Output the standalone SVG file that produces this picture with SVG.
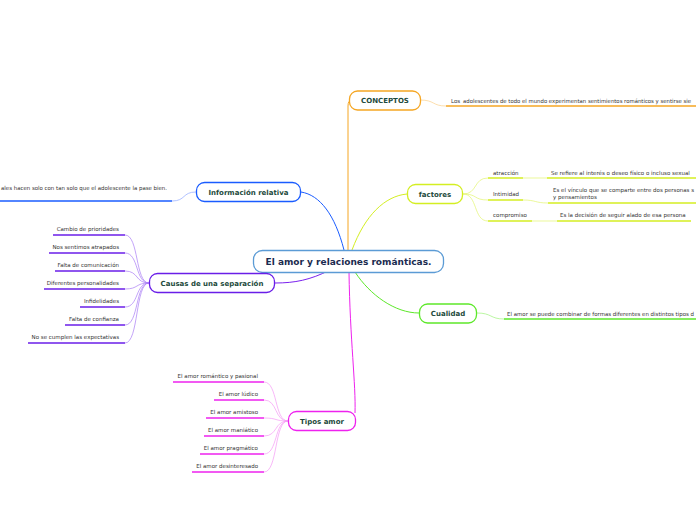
<svg xmlns="http://www.w3.org/2000/svg" width="696" height="520" viewBox="0 0 696 520">
<style>
.node{fill:#fff;stroke-width:1.3}
.lbl{font-family:"DejaVu Sans",sans-serif;font-weight:bold;font-size:7px;fill:#1d4a3c;text-anchor:middle}
.sm{font-family:"DejaVu Sans",sans-serif;font-size:5.5px;fill:#333}
.end{text-anchor:end}
.c{fill:none;stroke-width:1}
.thin{fill:none;stroke-width:0.7}
.ul{fill:none;stroke-width:1.6}
</style>
<rect width="696" height="520" fill="#fff"/>
<g id="connectors">
  <path class="c" stroke="#f5a623" d="M348,250 L348,106 Q348,100 352,100"/>
  <path class="c" stroke="#1a5cff" d="M344,250 C335,215 320,195 301,192"/>
  <path class="c" stroke="#d4ee22" d="M352,250 C365,215 385,196 407,194"/>
  <path class="c" stroke="#5de82a" d="M355,272 C370,295 395,313 419,313"/>
  <path class="c" stroke="#7b22ee" d="M330,270 C310,280 295,283 275,283"/>
  <path class="c" stroke="#ee22ee" d="M349,272 C350,340 356,385 355,413"/>
  <path class="thin" stroke="#fbd08a" d="M420,100 C435,100 432,106 446,106"/>
  <path class="ul" stroke="#f5a623" d="M446,106 L696,106"/>
  <path class="thin" stroke="#8fa8ff" d="M196,192 C182,192 186,201 172,201"/>
  <path class="ul" stroke="#1a5cff" d="M0,201 L172,201"/>
  <path class="thin" stroke="#e2f56e" d="M463,194 C478,194 473,178 488,178"/>
  <path class="thin" stroke="#e2f56e" d="M463,194 C478,194 473,200 488,200"/>
  <path class="thin" stroke="#e2f56e" d="M463,194 C478,194 473,221 488,221"/>
  <path class="ul" stroke="#d4ee22" d="M488,178 L523,178"/>
  <path class="thin" stroke="#e2f56e" d="M523,178 L547,178"/>
  <path class="ul" stroke="#d4ee22" d="M547,178 L696,178"/>
  <path class="ul" stroke="#d4ee22" d="M488,200 L523,200"/>
  <path class="thin" stroke="#e2f56e" d="M523,200 C536,200 535,203 548,203"/>
  <path class="ul" stroke="#d4ee22" d="M548,203 L696,203"/>
  <path class="ul" stroke="#d4ee22" d="M488,221 L532,221"/>
  <path class="thin" stroke="#e2f56e" d="M532,221 L557,221"/>
  <path class="ul" stroke="#d4ee22" d="M557,221 L691,221"/>
  <path class="thin" stroke="#9ef27a" d="M477,313 C492,313 490,319 504,319"/>
  <path class="ul" stroke="#5de82a" d="M504,319 L696,319"/>
  <g class="thin" stroke="#a97cf5">
    <path d="M149,283 C135,283 139,235 125,235"/>
    <path d="M149,283 C135,283 139,253 125,253"/>
    <path d="M149,283 C135,283 139,271 125,271"/>
    <path d="M149,283 C135,283 139,289 125,289"/>
    <path d="M149,283 C135,283 139,307 125,307"/>
    <path d="M149,283 C135,283 139,325 125,325"/>
    <path d="M149,283 C135,283 139,343 125,343"/>
  </g>
  <g class="ul" stroke="#6a1ee8">
    <path d="M53,235 L125,235"/>
    <path d="M49,253 L125,253"/>
    <path d="M55,271 L125,271"/>
    <path d="M44,289 L125,289"/>
    <path d="M80,307 L125,307"/>
    <path d="M65,325 L125,325"/>
    <path d="M28,343 L125,343"/>
  </g>
  <g class="thin" stroke="#f59af5">
    <path d="M288,421 C274,421 278,382 264,382"/>
    <path d="M288,421 C274,421 278,400 264,400"/>
    <path d="M288,421 C274,421 278,418 264,418"/>
    <path d="M288,421 C274,421 278,436 264,436"/>
    <path d="M288,421 C274,421 278,454 264,454"/>
    <path d="M288,421 C274,421 278,472 264,472"/>
  </g>
  <g class="ul" stroke="#ee22ee">
    <path d="M173,382 L264,382"/>
    <path d="M214,400 L264,400"/>
    <path d="M206,418 L264,418"/>
    <path d="M204,436 L264,436"/>
    <path d="M200,454 L264,454"/>
    <path d="M192,472 L264,472"/>
  </g>
</g>
<g id="center">
  <rect class="node" x="253.5" y="250.5" width="190" height="22" rx="9" stroke="#5b9bd5"/>
  <text x="348.5" y="265" font-family="DejaVu Sans,sans-serif" font-weight="bold" font-size="9" fill="#1b2b4f" text-anchor="middle">El amor y relaciones románticas.</text>
</g>
<g id="conceptos">
  <rect class="node" x="349.5" y="91" width="71" height="19" rx="8" stroke="#f5a623"/>
  <text class="lbl" x="385" y="103">CONCEPTOS</text>
  <text class="sm" x="451" y="103">Los</text>
  <text class="sm" x="463" y="103" font-size="5.2" textLength="228" lengthAdjust="spacingAndGlyphs">adolescentes de todo el mundo experimentan sentimientos románticos y sentirse sie</text>
</g>
<g id="informacion">
  <rect class="node" x="196.5" y="182.5" width="104" height="19" rx="8" stroke="#1a5cff"/>
  <text class="lbl" x="248.5" y="194.5">Información relativa</text>
  <text class="sm" x="1" y="190" textLength="166" lengthAdjust="spacingAndGlyphs">ales hacen solo con tan solo que el adolescente la pase bien.</text>
</g>
<g id="factores">
  <rect class="node" x="407.5" y="184.5" width="55" height="19" rx="8" stroke="#d4ee22"/>
  <text class="lbl" x="435" y="196.5">factores</text>
  <text class="sm" x="493" y="175">atracción</text>
  <text class="sm" x="551" y="175">Se refiere al interés o deseo físico o incluso sexual</text>
  <text class="sm" x="493" y="196">Intimidad</text>
  <text class="sm" x="553" y="192" textLength="141" lengthAdjust="spacingAndGlyphs">Es el vínculo que se comparte entre dos personas s</text>
  <text class="sm" x="553" y="199">y pensamientos</text>
  <text class="sm" x="493" y="217">compromiso</text>
  <text class="sm" x="560" y="217">Es la decisión de seguir alado de esa persona</text>
</g>
<g id="cualidad">
  <rect class="node" x="419.5" y="304" width="57" height="19" rx="8" stroke="#5de82a"/>
  <text class="lbl" x="448" y="316">Cualidad</text>
  <text class="sm" x="507" y="316" textLength="187" lengthAdjust="spacingAndGlyphs">El amor se puede combinar de formas diferentes en distintos tipos d</text>
</g>
<g id="causas">
  <rect class="node" x="149.5" y="273.5" width="125" height="19" rx="8" stroke="#6a1ee8"/>
  <text class="lbl" x="212" y="285.5">Causas de una separación</text>
  <text class="sm end" x="119" y="231">Cambio de prioridades</text>
  <text class="sm end" x="119" y="249">Nos sentimos atrapados</text>
  <text class="sm end" x="119" y="267">Falta de comunicación</text>
  <text class="sm end" x="119" y="285">Diferentes personalidades</text>
  <text class="sm end" x="119" y="303">Infidelidades</text>
  <text class="sm end" x="119" y="321">Falta de confianza</text>
  <text class="sm end" x="119" y="339">No se cumplen las expectativas</text>
</g>
<g id="tipos">
  <rect class="node" x="288.5" y="411.5" width="67" height="19" rx="8" stroke="#ee22ee"/>
  <text class="lbl" x="322" y="423.5">Tipos amor</text>
  <text class="sm end" x="258" y="378">El amor romántico y pasional</text>
  <text class="sm end" x="258" y="396">El amor lúdico</text>
  <text class="sm end" x="258" y="414">El amor amistoso</text>
  <text class="sm end" x="258" y="432">El amor maniático</text>
  <text class="sm end" x="258" y="450">El amor pragmático</text>
  <text class="sm end" x="258" y="468">El amor desinteresado</text>
</g>
</svg>
